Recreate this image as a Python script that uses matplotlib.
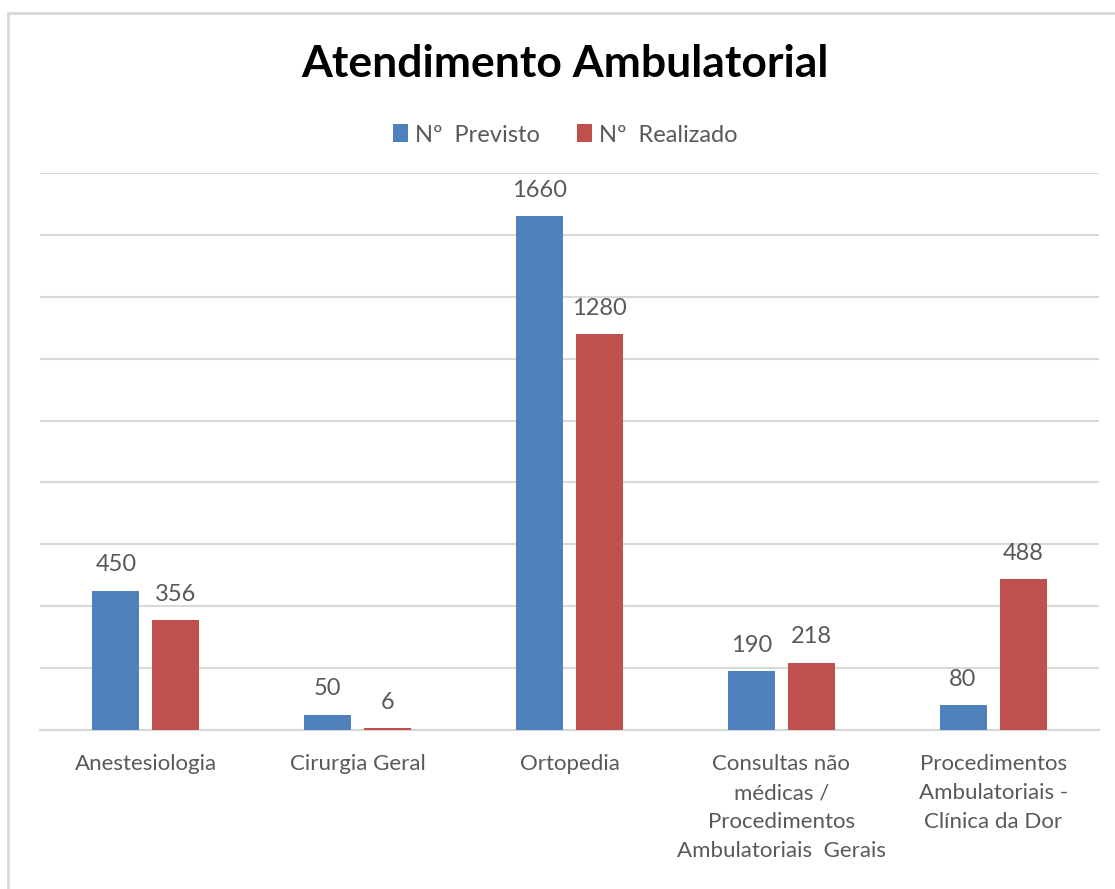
import numpy as np
import matplotlib.pyplot as plt
from matplotlib.patches import Rectangle

categories = ['Anestesiologia', 'Cirurgia Geral', 'Ortopedia',
              'Consultas não\nmédicas /\nProcedimentos\nAmbulatoriais  Gerais',
              'Procedimentos\nAmbulatoriais -\nClínica da Dor']
previsto = [450, 50, 1660, 190, 80]
realizado = [356, 6, 1280, 218, 488]
series_names = ['Nº  Previsto', 'Nº  Realizado']

blue = '#4F81BD'
red = '#C0504D'
text_gray = '#595959'
grid_gray = '#D9D9D9'

plt.rcParams['font.family'] = ['Lato', 'DejaVu Sans']

fig = plt.figure(figsize=(11.15, 8.89), dpi=100)
fig.patches.append(Rectangle((8 / 1115, -0.01), 1.2, (889 - 13) / 889 + 0.01,
                             transform=fig.transFigure, fill=False,
                             edgecolor=grid_gray, linewidth=2))
ax = fig.add_axes([40 / 1115, 1 - 730 / 889, 1059 / 1115, 557 / 889])

x = np.arange(len(categories))
w = 0.222
off = 0.142
b1 = ax.bar(x - off, previsto, w, color=blue, label=series_names[0], zorder=3)
b2 = ax.bar(x + off, realizado, w, color=red, label=series_names[1], zorder=3)

# value labels above each bar
for bars, vals in ((b1, previsto), (b2, realizado)):
    for rect, v in zip(bars, vals):
        ax.annotate(str(v), (rect.get_x() + rect.get_width() / 2, v),
                    xytext=(0, 11), textcoords='offset points',
                    ha='center', va='bottom', fontsize=17, color=text_gray)

ax.set_xlim(-0.5, len(categories) - 0.5)
ax.set_ylim(0, 1800)
ax.set_yticks(np.arange(0, 1801, 200))
ax.yaxis.grid(True, color=grid_gray, linewidth=1.5, zorder=0)
ax.tick_params(axis='y', left=False, labelleft=False)
ax.tick_params(axis='x', bottom=False, pad=14)
ax.set_xticks(x)
ax.set_xticklabels(categories, fontsize=16, color=text_gray, linespacing=1.55)
for s in ('top', 'right', 'left'):
    ax.spines[s].set_visible(False)
ax.spines['bottom'].set_color(grid_gray)
ax.spines['bottom'].set_linewidth(1.5)

fig.text(0.507, 1 - 64 / 889, 'Atendimento Ambulatorial', ha='center', va='center',
         fontsize=32, fontweight='bold', color='black')
fig.legend(handles=[b1, b2], loc='center', bbox_to_anchor=(0.507, 1 - 135 / 889),
           ncol=2, frameon=False, fontsize=17, labelcolor=text_gray,
           handlelength=0.6, handleheight=0.8, handletextpad=0.3, columnspacing=1.6)

fig.savefig('out.png', dpi=100)
